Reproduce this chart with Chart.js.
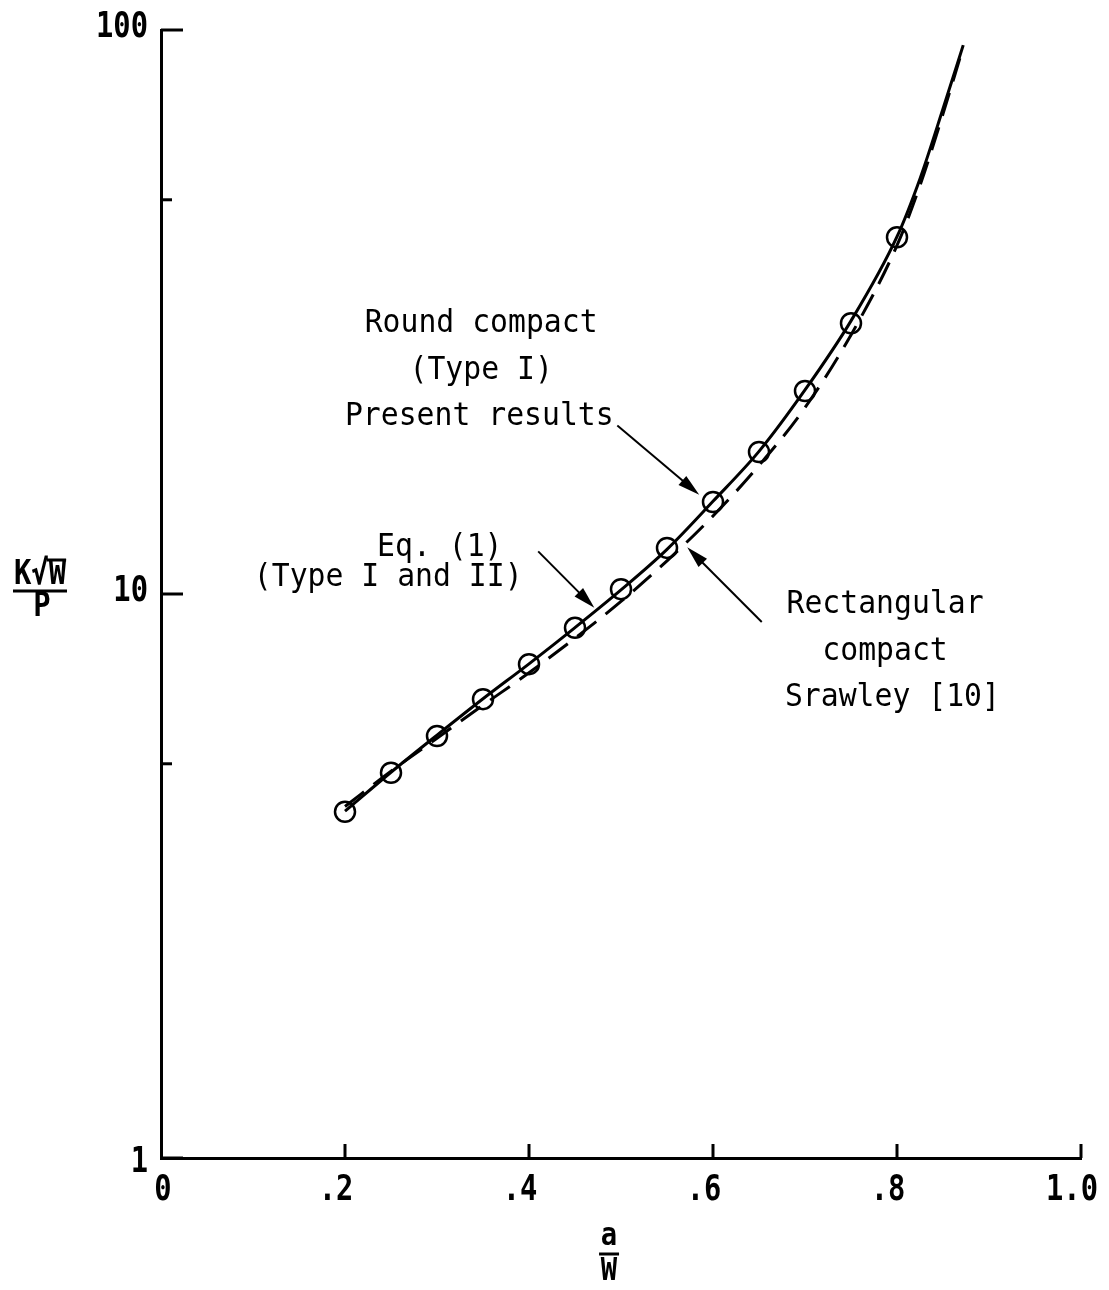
<!DOCTYPE html>
<html>
<head>
<meta charset="utf-8">
<script src="https://cdn.jsdelivr.net/npm/chart.js@4.4.1/dist/chart.umd.min.js"></script>
<style>
  html, body { margin: 0; padding: 0; background: #fff; }
  #wrap { width: 1109px; height: 1290px; }
</style>
</head>
<body>
<div id="wrap"><canvas id="kChart" width="1109" height="1290"></canvas></div>
<script>
// a/W where the round compact specimen was computed (circles)
const aW = [0.2, 0.25, 0.3, 0.35, 0.4, 0.45, 0.5, 0.55, 0.6, 0.65, 0.7, 0.75, 0.8];
const presentK = [4.11, 4.82, 5.60, 6.51, 7.51, 8.71, 10.2, 12.07, 14.56, 17.86, 22.9, 30.2, 42.9];

// Eq. (1), solid curve
const eqX = [0.2, 0.25, 0.3, 0.35, 0.4, 0.45, 0.5, 0.55, 0.6, 0.65, 0.7, 0.75, 0.8, 0.825, 0.85, 0.872];
const eqK = [4.12, 4.83, 5.62, 6.52, 7.52, 8.72, 10.17, 12.0, 14.6, 17.9, 23.0, 30.5, 43.0, 54.5, 72.5, 94];

// Srawley [10], rectangular compact, dashed curve
const srawX = [0.2, 0.25, 0.3, 0.35, 0.4, 0.45, 0.5, 0.55, 0.6, 0.65, 0.7, 0.75, 0.8, 0.825, 0.85, 0.87];
const srawK = [4.2, 4.85, 5.55, 6.35, 7.25, 8.35, 9.7, 11.45, 13.75, 16.9, 21.4, 28.8, 41.5, 53, 71, 91];

// axis ticks
const xTicks = [0, 0.2, 0.4, 0.6, 0.8, 1.0];
const xTickLabels = ['0', '.2', '.4', '.6', '.8', '1.0'];
const yTicks = [1, 5, 10, 50, 100];
const yTickLabels = ['1', '', '10', '', '100'];

// labels and arrows (anchored in data coordinates)
const notes = [
  { text: 'Round compact', x: 0.348, y: 30.2 },
  { text: '(Type I)', x: 0.348, y: 24.9 },
  { text: 'Present results', x: 0.346, y: 20.6 },
  { text: 'Eq. (1)', x: 0.303, y: 12.1 },
  { text: '(Type I and II)', x: 0.247, y: 10.7 },
  { text: 'Rectangular', x: 0.787, y: 9.56 },
  { text: 'compact', x: 0.787, y: 7.89 },
  { text: 'Srawley [10]', x: 0.795, y: 6.54 }
];
const arrows = [
  { x0: 0.496, y0: 19.9, x1: 0.585, y1: 15.0 },
  { x0: 0.410, y0: 11.9, x1: 0.471, y1: 9.45 },
  { x0: 0.653, y0: 8.92, x1: 0.572, y1: 12.1 }
];

const FONT = '"DejaVu Sans Mono", "Liberation Mono", monospace';

const toPts = (xs, ys) => xs.map((x, i) => ({ x: x, y: ys[i] }));

// condensed text, like the lettering on the original drawing
function drawText(ctx, text, x, y, size, sx, align, weight) {
  ctx.save();
  ctx.font = (weight || 'normal') + ' ' + size + 'px ' + FONT;
  ctx.textAlign = align || 'center';
  ctx.textBaseline = 'middle';
  ctx.translate(x, y);
  ctx.scale(sx, 1);
  ctx.fillText(text, 0, 0);
  ctx.restore();
}

const decor = {
  id: 'decor',
  afterDraw(chart) {
    const ctx = chart.ctx;
    const xs = chart.scales.x, ys = chart.scales.y;
    const area = chart.chartArea;
    ctx.save();
    ctx.strokeStyle = '#000';
    ctx.fillStyle = '#000';
    ctx.lineCap = 'butt';

    // inward tick marks
    ctx.lineWidth = 3;
    yTicks.forEach(v => {
      const py = ys.getPixelForValue(v);
      const len = (v === 5 || v === 50) ? 11 : 22;
      ctx.beginPath();
      ctx.moveTo(area.left, py);
      ctx.lineTo(area.left + len, py);
      ctx.stroke();
    });
    xTicks.forEach(v => {
      if (v === 0) return;
      const px = xs.getPixelForValue(v);
      ctx.beginPath();
      ctx.moveTo(px, area.bottom);
      ctx.lineTo(px, area.bottom - 14);
      ctx.stroke();
    });

    // tick labels
    yTicks.forEach((v, i) => {
      if (!yTickLabels[i]) return;
      const dy = v === 1 ? 5 : (v === 100 ? -2 : -2);
      drawText(ctx, yTickLabels[i], area.left - 13, ys.getPixelForValue(v) + dy, 36, 0.8, 'right', 'bold');
    });
    xTicks.forEach((v, i) => {
      const dx = v === 0 ? 2 : -9;
      drawText(ctx, xTickLabels[i], xs.getPixelForValue(v) + dx, area.bottom + 33, 36, 0.8, 'center', 'bold');
    });

    // annotation text
    notes.forEach(n => {
      drawText(ctx, n.text, xs.getPixelForValue(n.x), ys.getPixelForValue(n.y), 32, 0.93, 'center');
    });

    // arrows
    ctx.lineWidth = 2;
    arrows.forEach(a => {
      const x0 = xs.getPixelForValue(a.x0), y0 = ys.getPixelForValue(a.y0);
      const x1 = xs.getPixelForValue(a.x1), y1 = ys.getPixelForValue(a.y1);
      const ang = Math.atan2(y1 - y0, x1 - x0);
      const hl = 22, hw = 6;
      ctx.beginPath();
      ctx.moveTo(x0, y0);
      ctx.lineTo(x1 - Math.cos(ang) * hl * 0.8, y1 - Math.sin(ang) * hl * 0.8);
      ctx.stroke();
      ctx.beginPath();
      ctx.moveTo(x1, y1);
      ctx.lineTo(x1 - Math.cos(ang) * hl - Math.sin(ang) * hw, y1 - Math.sin(ang) * hl + Math.cos(ang) * hw);
      ctx.lineTo(x1 - Math.cos(ang) * hl + Math.sin(ang) * hw, y1 - Math.sin(ang) * hl - Math.cos(ang) * hw);
      ctx.closePath();
      ctx.fill();
    });

    // y axis title: K sqrt(W) / P
    ctx.lineWidth = 3;
    const cx = 40;
    const barY = ys.getPixelForValue(10) - 3;
    const tsx = 0.85;
    ctx.font = 'bold 34px ' + FONT;
    const totalW = ctx.measureText('K\u221AW').width * tsx;
    const wStart = cx - totalW / 2 + ctx.measureText('K\u221A').width * tsx;
    drawText(ctx, 'K\u221AW', cx, barY - 16, 34, tsx, 'center', 'bold');
    ctx.beginPath();
    ctx.moveTo(wStart - 2, barY - 31);
    ctx.lineTo(cx + totalW / 2, barY - 31);
    ctx.stroke();
    ctx.beginPath();
    ctx.moveTo(cx - 27, barY);
    ctx.lineTo(cx + 27, barY);
    ctx.stroke();
    drawText(ctx, 'P', cx + 2, barY + 16, 34, tsx, 'center', 'bold');

    // x axis title: a / W
    const mx = xs.getPixelForValue(0.487);
    const by = area.bottom + 96;
    drawText(ctx, 'a', mx, by - 17, 32, 0.85, 'center', 'bold');
    ctx.beginPath();
    ctx.moveTo(mx - 10, by);
    ctx.lineTo(mx + 10, by);
    ctx.stroke();
    drawText(ctx, 'W', mx, by + 18, 32, 0.85, 'center', 'bold');

    ctx.restore();
  }
};

new Chart(document.getElementById('kChart').getContext('2d'), {
  type: 'line',
  data: {
    datasets: [
      {
        label: 'Eq. (1)',
        data: toPts(eqX, eqK),
        borderColor: '#000',
        borderWidth: 3,
        pointRadius: 0,
        cubicInterpolationMode: 'monotone',
        fill: false,
        order: 3
      },
      {
        label: 'Srawley [10]',
        data: toPts(srawX, srawK),
        borderColor: '#000',
        borderWidth: 3,
        borderDash: [24, 12],
        pointRadius: 0,
        cubicInterpolationMode: 'monotone',
        fill: false,
        order: 2
      },
      {
        label: 'Present results',
        data: toPts(aW, presentK),
        showLine: false,
        pointStyle: 'circle',
        pointRadius: 10,
        pointBorderWidth: 2.5,
        pointBorderColor: '#000',
        pointBackgroundColor: 'rgba(0,0,0,0)',
        order: 1
      }
    ]
  },
  options: {
    responsive: false,
    animation: false,
    events: [],
    layout: { padding: { left: 161, right: 28, top: 30, bottom: 132 } },
    plugins: {
      legend: { display: false },
      tooltip: { enabled: false }
    },
    scales: {
      x: {
        type: 'linear',
        min: 0,
        max: 1,
        afterFit: s => { s.height = 0; },
        afterBuildTicks: s => { s.ticks = xTicks.map(v => ({ value: v })); },
        grid: { display: false, drawTicks: false },
        border: { display: true, color: '#000', width: 3 },
        ticks: { display: false }
      },
      y: {
        type: 'logarithmic',
        min: 1,
        max: 100,
        afterFit: s => { s.width = 0; },
        afterBuildTicks: s => { s.ticks = yTicks.map(v => ({ value: v })); },
        grid: { display: false, drawTicks: false },
        border: { display: true, color: '#000', width: 3 },
        ticks: { display: false }
      }
    }
  },
  plugins: [decor]
});
</script>
</body>
</html>
